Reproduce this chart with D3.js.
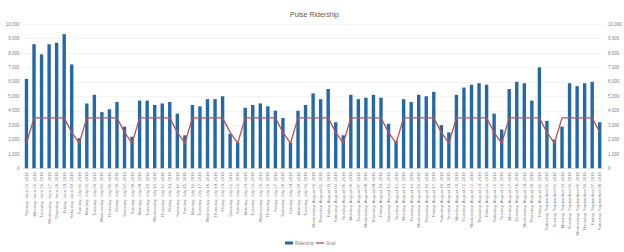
<!DOCTYPE html>
<html lang="en">
<head>
<meta charset="utf-8">
<title>Pulse Ridership</title>
<script src="https://cdn.jsdelivr.net/npm/d3@7"></script>
<style>
    body { margin: 0; background: #fff; }
    svg { display: block; font-family: "Liberation Sans", Arial, sans-serif; }
    .grid line { stroke: #ececec; stroke-width: 0.6; }
    .tick-label { fill: #7f7f7f; font-size: 4.5px; }
    .date-label { fill: #7f7f7f; font-size: 4.3px; }
    .title { fill: #595959; font-size: 7px; }
</style>
</head>
<body>
<div id="chart"></div>
<script>
    // daily riders, Sun Jun 24 2018 .. Sat Sep 8 2018
    var startDate = new Date(2018, 5, 24);
    var endDate = new Date(2018, 8, 9);

    var ridership = [
        6200, 8600, 7900, 8600, 8700, 9300, 7200,
        2100, 4500, 5100, 3900, 4100, 4600, 2900,
        2200, 4700, 4700, 4400, 4500, 4600, 3800,
        2300, 4400, 4300, 4800, 4800, 5000, 2400,
        1800, 4200, 4400, 4500, 4300, 4000, 3500,
        1800, 4000, 4400, 5200, 4800, 5500, 3200,
        2300, 5100, 4800, 4900, 5100, 4900, 3100,
        1900, 4800, 4600, 5100, 5000, 5300, 3000,
        2500, 5100, 5600, 5800, 5900, 5800, 3800,
        2700, 5500, 6000, 5900, 4700, 7000, 3300,
        2000, 2900, 5900, 5700, 5900, 6000, 3200
    ];

    var goal = [
        1750, 3500, 3500, 3500, 3500, 3500, 2500,
        1750, 3500, 3500, 3500, 3500, 3500, 2500,
        1750, 3500, 3500, 3500, 3500, 3500, 2500,
        1750, 3500, 3500, 3500, 3500, 3500, 2500,
        1750, 3500, 3500, 3500, 3500, 3500, 2500,
        1750, 3500, 3500, 3500, 3500, 3500, 2500,
        1750, 3500, 3500, 3500, 3500, 3500, 2500,
        1750, 3500, 3500, 3500, 3500, 3500, 2500,
        1750, 3500, 3500, 3500, 3500, 3500, 2500,
        1750, 3500, 3500, 3500, 3500, 3500, 2500,
        1750, 3500, 3500, 3500, 3500, 3500, 2500
    ];

    var yTicks = [0, 1000, 2000, 3000, 4000, 5000, 6000, 7000, 8000, 9000, 10000];
    var seriesNames = ["Ridership", "Goal"];

    var width = 624, height = 252;
    var barColor = "#2369a6", goalColor = "#c0504d";

    var fmtDate = d3.timeFormat("%A, %B %d, %Y");
    var dates = d3.timeDay.range(startDate, endDate).map(fmtDate);

    var rows = dates.map(function(d, i) {
        return { date: d, riders: ridership[i], goal: goal[i] };
    });

    var svg = d3.select("#chart").append("svg")
        .attr("width", width)
        .attr("height", height);

    var x = d3.scaleBand()
        .domain(dates)
        .range([22.7, 603.5])
        .paddingInner(0.55)
        .paddingOuter(0.275);

    var y = d3.scaleLinear()
        .domain([0, 10000])
        .range([168.5, 24]);

    var fmtNum = d3.format(",");

    // gridlines
    svg.append("g").attr("class", "grid")
        .selectAll("line")
        .data(yTicks.slice(1))
        .enter().append("line")
        .attr("x1", 22.7).attr("x2", 603.5)
        .attr("y1", d => Math.round(y(d)) + 0.5)
        .attr("y2", d => Math.round(y(d)) + 0.5);

    // left + right value labels
    svg.append("g").selectAll("text")
        .data(yTicks)
        .enter().append("text")
        .attr("class", "tick-label")
        .attr("x", 19.5)
        .attr("y", d => y(d) + 1.6)
        .attr("text-anchor", "end")
        .text(fmtNum);

    svg.append("g").selectAll("text")
        .data(yTicks)
        .enter().append("text")
        .attr("class", "tick-label")
        .attr("x", 608)
        .attr("y", d => y(d) + 1.6)
        .attr("text-anchor", "start")
        .text(fmtNum);

    // bars
    svg.append("g").selectAll("rect")
        .data(rows)
        .enter().append("rect")
        .attr("x", d => x(d.date))
        .attr("width", x.bandwidth())
        .attr("y", d => y(d.riders))
        .attr("height", d => y(0) - y(d.riders))
        .attr("fill", barColor);

    // axis line
    svg.append("line")
        .attr("x1", 22.7).attr("x2", 603.5)
        .attr("y1", 168.5).attr("y2", 168.5)
        .attr("stroke", "#d9d9d9").attr("stroke-width", 0.6);

    // goal line
    var line = d3.line()
        .x(d => x(d.date) + x.bandwidth() / 2)
        .y(d => y(d.goal));

    svg.append("path")
        .datum(rows)
        .attr("d", line)
        .attr("fill", "none")
        .attr("stroke", goalColor)
        .attr("stroke-width", 1.3)
        .attr("stroke-linejoin", "round");

    // date labels, rotated
    svg.append("g").selectAll("text")
        .data(dates)
        .enter().append("text")
        .attr("class", "date-label")
        .attr("text-anchor", "end")
        .attr("transform", d => "translate(" + (x(d) + x.bandwidth() / 2 + 1.5) + ",172) rotate(-90)")
        .text(d => d);

    // title
    svg.append("text")
        .attr("class", "title")
        .attr("x", 314.5).attr("y", 17)
        .attr("text-anchor", "middle")
        .text("Pulse Ridership");

    // legend
    var legend = svg.append("g").attr("transform", "translate(285,243)");
    legend.append("rect")
        .attr("x", 0).attr("y", -1.5)
        .attr("width", 8).attr("height", 3)
        .attr("fill", barColor);
    legend.append("text")
        .attr("class", "tick-label")
        .attr("x", 10).attr("y", 1.6)
        .text(seriesNames[0]);
    legend.append("line")
        .attr("x1", 31).attr("x2", 39)
        .attr("y1", 0).attr("y2", 0)
        .attr("stroke", goalColor).attr("stroke-width", 1.3);
    legend.append("text")
        .attr("class", "tick-label")
        .attr("x", 41).attr("y", 1.6)
        .text(seriesNames[1]);
</script>
</body>
</html>
